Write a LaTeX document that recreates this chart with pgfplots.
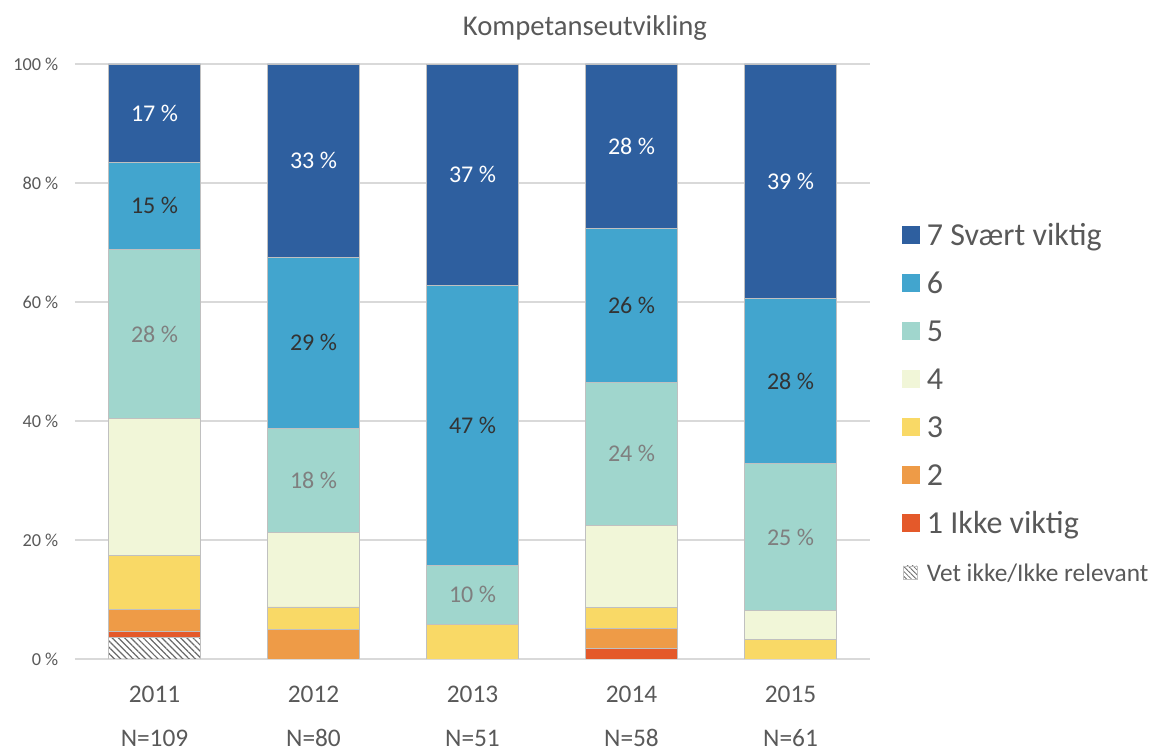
\documentclass[border=0pt]{standalone}
\usepackage{fontspec}
\setmainfont{Carlito}
\usepackage{pgfplots}
\pgfplotsset{compat=1.18}
\usetikzlibrary{patterns,patterns.meta}
\definecolor{c7}{HTML}{2E5F9F}
\definecolor{c6}{HTML}{42A5CE}
\definecolor{c5}{HTML}{A0D6CD}
\definecolor{c4}{HTML}{F1F6D8}
\definecolor{c3}{HTML}{F9D966}
\definecolor{c2}{HTML}{EE9B47}
\definecolor{c1}{HTML}{E4592A}
\definecolor{hatch}{HTML}{6A6A6A}
\definecolor{bordergray}{HTML}{C0C0C0}
\definecolor{gridgray}{HTML}{D9D9D9}
\definecolor{tickgray}{HTML}{595959}
\definecolor{lbldark}{HTML}{333333}
\definecolor{lblgray}{HTML}{7F7F7F}
\begin{document}
\begin{tikzpicture}
\begin{axis}[
  scale only axis, width=596.25pt, height=446.25pt,
  ybar stacked, bar width=0.58,
  xmin=-0.5, xmax=4.5, ymin=0, ymax=100,
  xtick={0,1,2,3,4},
  xticklabels={{2011\\[10pt]N=109},{2012\\[10pt]N=80},{2013\\[10pt]N=51},{2014\\[10pt]N=58},{2015\\[10pt]N=61}},
  xticklabel style={align=center, font=\fontsize{19}{23}\selectfont, text=tickgray, inner ysep=0pt, yshift=-20.3pt},
  ytick={0,20,40,60,80,100},
  yticklabels={0 \%,20 \%,40 \%,60 \%,80 \%,100 \%},
  yticklabel style={font=\fontsize{13.7}{16}\selectfont, text=tickgray, xshift=-9pt},
  axis line style={draw=none}, major tick length=0pt,
  ymajorgrids, grid style={draw=gridgray, line width=0.9pt},
  title={Kompetanseutvikling},
  title style={at={(rel axis cs:0.6415,1.047)}, anchor=center, font=\fontsize{21.5}{24}\selectfont, text=tickgray},
  legend image code/.code={\draw[#1, draw=none] (0pt,-5.2pt) rectangle (13.5pt,8.3pt);},
  reverse legend,
  legend cell align=left,
  legend style={at={(rel axis cs:1,0.426)}, xshift=24pt, anchor=west, draw=none, fill=none,
    inner sep=0pt, row sep=12pt, column sep=5pt,
    nodes={inner sep=0pt, text height=18pt, text depth=6pt, text=tickgray},
    font=\fontsize{24}{28}\selectfont},
]
\addplot[pattern={Lines[angle=-45, distance=3.3pt, line width=0.9pt]}, pattern color=hatch, draw=bordergray, line width=0.6pt,
  legend image code/.code={\draw[pattern={Lines[angle=-45, distance=2.6pt, line width=0.6pt]}, pattern color=hatch, draw=bordergray, line width=0.4pt] (1pt,-4.2pt) rectangle (11pt,5.8pt);}]
  coordinates {(0,3.67) (1,0) (2,0) (3,0) (4,0)};
\addlegendentry{\fontsize{19}{22}\selectfont Vet ikke/Ikke relevant}
\addplot[fill=c1, draw=bordergray, line width=0.6pt] coordinates {(0,0.92) (1,0) (2,0) (3,1.72) (4,0)};
\addlegendentry{1 Ikke viktig}
\addplot[fill=c2, draw=bordergray, line width=0.6pt] coordinates {(0,3.67) (1,5.0) (2,0) (3,3.45) (4,0)};
\addlegendentry{2}
\addplot[fill=c3, draw=bordergray, line width=0.6pt] coordinates {(0,9.17) (1,3.75) (2,5.88) (3,3.45) (4,3.28)};
\addlegendentry{3}
\addplot[fill=c4, draw=bordergray, line width=0.6pt] coordinates {(0,22.94) (1,12.5) (2,0) (3,13.79) (4,4.92)};
\addlegendentry{4}
\addplot[fill=c5, draw=bordergray, line width=0.6pt, point meta=explicit symbolic, nodes near coords,
  nodes near coords style={text=lblgray, font=\fontsize{18}{20}\selectfont}]
  coordinates {(0,28.44) [28 \%] (1,17.5) [18 \%] (2,9.8) [10 \%] (3,24.14) [24 \%] (4,24.59) [25 \%]};
\addlegendentry{5}
\addplot[fill=c6, draw=bordergray, line width=0.6pt, point meta=explicit symbolic, nodes near coords,
  nodes near coords style={text=lbldark, font=\fontsize{18}{20}\selectfont}]
  coordinates {(0,14.68) [15 \%] (1,28.75) [29 \%] (2,47.06) [47 \%] (3,25.86) [26 \%] (4,27.87) [28 \%]};
\addlegendentry{6}
\addplot[fill=c7, draw=bordergray, line width=0.6pt, point meta=explicit symbolic, nodes near coords,
  nodes near coords style={text=white, font=\fontsize{18}{20}\selectfont}]
  coordinates {(0,16.51) [17 \%] (1,32.5) [33 \%] (2,37.25) [37 \%] (3,27.59) [28 \%] (4,39.34) [39 \%]};
\addlegendentry{7 Svært viktig}
\coordinate (bl) at (rel axis cs:0,0);
\end{axis}
\pgfresetboundingbox
\path[use as bounding box] ([shift={(-56.25pt,-72.75pt)}]bl) rectangle ([shift={(811.5pt,494.25pt)}]bl);
\end{tikzpicture}
\end{document}
